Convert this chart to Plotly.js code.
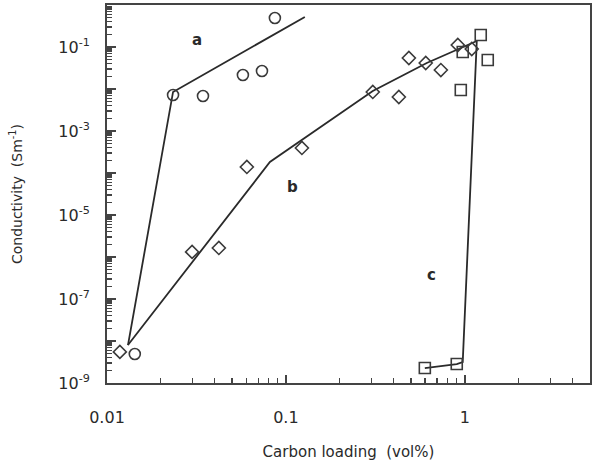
<!DOCTYPE html>
<html>
<head>
<meta charset="utf-8">
<script src="https://cdn.plot.ly/plotly-3.0.1.min.js"></script>
<style>html,body{margin:0;padding:0;background:#fff;}#chart{width:593px;height:463px;}</style>
</head>
<body>
<div id="chart"></div>
<script>
// Series a (circles)
const aX = [0.0143, 0.0234, 0.0344, 0.0575, 0.0735, 0.0868];
const aY = [4.9e-9, 7.2e-3, 6.8e-3, 0.0216, 0.0268, 0.49];
const aLineX = [0.0131, 0.0234, 0.1276];
const aLineY = [8.0e-9, 8.5e-3, 0.518];

// Series b (diamonds)
const bX = [0.0118, 0.0299, 0.0422, 0.0605, 0.1229, 0.306, 0.428, 0.487, 0.605, 0.735, 0.914, 1.094];
const bY = [5.5e-9, 1.32e-6, 1.64e-6, 1.39e-4, 3.94e-4, 8.5e-3, 6.45e-3, 0.0547, 0.0416, 0.0283, 0.1116, 0.0896];
const bLineX = [0.0131, 0.0814, 0.306, 0.613, 1.167];
const bLineY = [8.0e-9, 1.83e-4, 8.96e-3, 0.0416, 0.139];

// Series c (squares)
const cX = [0.598, 0.902, 0.950, 0.974, 1.228, 1.344];
const cY = [2.27e-9, 2.83e-9, 9.47e-3, 0.076, 0.193, 0.049];
const cLineX = [0.598, 0.902, 0.974, 1.167];
const cLineY = [2.27e-9, 2.83e-9, 3.16e-9, 0.139];

// Curve labels
const labelText = ['a', 'b', 'c'];
const labelX = [0.0319, 0.1094, 0.655];
const labelY = [0.147, 4.64e-5, 3.73e-7];

// Ticks
const xMajorVals = [0.01, 0.1, 1];
const xMajorText = ['0.01', '0.1', '1'];
const yLabelVals = [1e-9, 1e-7, 1e-5, 1e-3, 1e-1];
const yLabelText = ['10<sup>-9</sup>', '10<sup>-7</sup>', '10<sup>-5</sup>', '10<sup>-3</sup>', '10<sup>-1</sup>'];
const yUnlabelledMajor = [1e-8, 1e-6, 1e-4, 1e-2, 1];

function minorVals(lo, hi) {
  const out = [];
  for (let e = lo; e < hi; e++) {
    for (let m = 2; m <= 9; m++) out.push(m * Math.pow(10, e));
  }
  return out;
}

const ink = '#2a2a2a';
const axc = '#444';
const font = 'DejaVu Sans, Liberation Sans, Arial, sans-serif';

const mk = (sym, size) => ({symbol: sym, size: size, color: '#3a3a3a', line: {color: '#3a3a3a', width: 1.6}});
const ln = {color: ink, width: 1.8};

const traces = [
  {x: aLineX, y: aLineY, mode: 'lines', line: ln, showlegend: false, hoverinfo: 'skip'},
  {x: bLineX, y: bLineY, mode: 'lines', line: ln, showlegend: false, hoverinfo: 'skip'},
  {x: cLineX, y: cLineY, mode: 'lines', line: ln, showlegend: false, hoverinfo: 'skip'},
  {x: aX, y: aY, mode: 'markers', marker: mk('circle-open', 11), showlegend: false},
  {x: bX, y: bY, mode: 'markers', marker: mk('diamond-open', 10), showlegend: false},
  {x: cX, y: cY, mode: 'markers', marker: mk('square-open', 11), showlegend: false},
  {x: [], y: [], xaxis: 'x', yaxis: 'y2', mode: 'markers', showlegend: false, hoverinfo: 'skip'}
];

const annotations = labelText.map((t, i) => ({
  x: Math.log10(labelX[i]), y: Math.log10(labelY[i]), xref: 'x', yref: 'y',
  text: '<b>' + t + '</b>', showarrow: false, font: {family: font, size: 15, color: ink}
}));

const layout = {
  width: 593, height: 463,
  margin: {l: 107, r: 3, t: 5, b: 80},
  paper_bgcolor: '#fff', plot_bgcolor: '#fff',
  showlegend: false,
  font: {family: font, color: ink},
  xaxis: {
    type: 'log', range: [-2, 0.7], showgrid: false, zeroline: false,
    showline: true, linecolor: axc, linewidth: 2, mirror: true,
    tickmode: 'array', tickvals: xMajorVals, ticktext: xMajorText,
    ticks: 'inside', ticklen: 8, tickwidth: 1.5, tickcolor: axc,
    ticklabelstandoff: 19,
    tickfont: {family: font, size: 16, color: ink},
    minor: {tickmode: 'array', tickvals: minorVals(-2, 1), ticks: 'inside', ticklen: 5, tickwidth: 1.2, tickcolor: axc, showgrid: false},
    title: {text: 'Carbon loading  (vol%)', font: {family: font, size: 15, color: ink}, standoff: 20}
  },
  yaxis: {
    type: 'log', range: [-9, 0], showgrid: false, zeroline: false,
    showline: true, linecolor: axc, linewidth: 2, mirror: true,
    tickmode: 'array', tickvals: yLabelVals, ticktext: yLabelText,
    ticks: 'inside', ticklen: 9, tickwidth: 1.5, tickcolor: axc,
    ticklabelstandoff: 12,
    tickfont: {family: font, size: 16, color: ink},
    minor: {tickmode: 'array', tickvals: minorVals(-9, 0), ticks: 'inside', ticklen: 5, tickwidth: 1.2, tickcolor: axc, showgrid: false},
    title: {text: 'Conductivity  (Sm<sup>-1</sup>)', font: {family: font, size: 14, color: ink}, standoff: 32}
  },
  yaxis2: {
    type: 'log', range: [-9, 0], overlaying: 'y', side: 'left', anchor: 'x',
    showgrid: false, zeroline: false, showline: false, showticklabels: false,
    tickmode: 'array', tickvals: yUnlabelledMajor,
    ticks: 'inside', ticklen: 9, tickwidth: 1.5, tickcolor: axc
  },
  annotations: annotations
};

Plotly.newPlot('chart', traces, layout, {displayModeBar: false, staticPlot: true});
</script>
</body>
</html>
